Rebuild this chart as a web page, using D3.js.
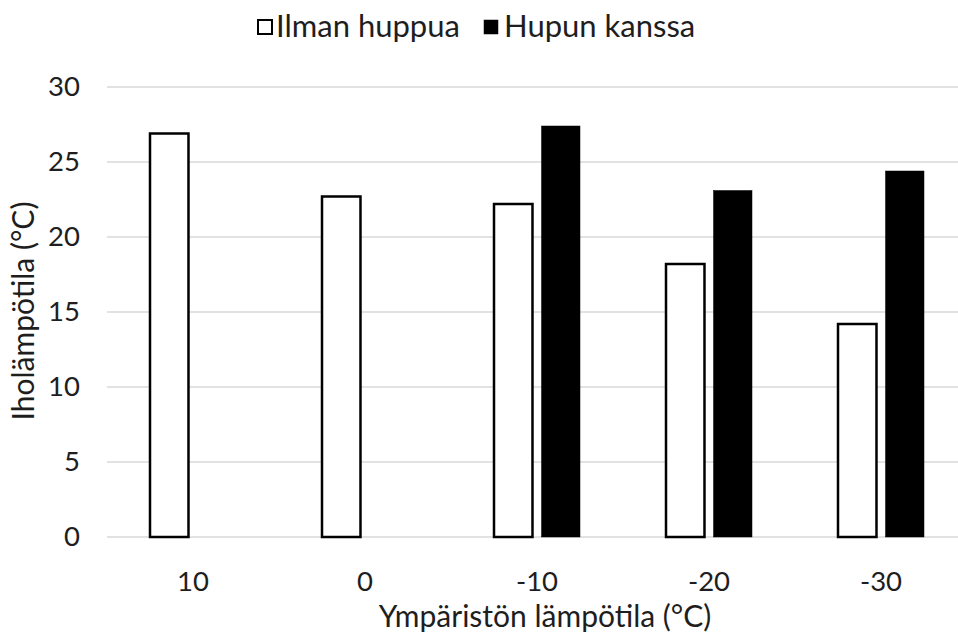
<!DOCTYPE html>
<html>
<head>
<meta charset="utf-8">
<script src="https://cdn.jsdelivr.net/npm/d3@7"></script>
<style>
  html, body { margin: 0; padding: 0; background: #fff; }
  svg { display: block; font-family: Lato, "Open Sans", sans-serif; }
</style>
</head>
<body>
<svg id="chart" width="958" height="637"></svg>
<script>
// Ambient temperature categories (°C) and skin temperature per series (°C)
const categories = ["10", "0", "-10", "-20", "-30"];
const seriesNames = ["Ilman huppua", "Hupun kanssa"];
const withoutHood = [26.9, 22.7, 22.2, 18.2, 14.2];
const withHood = [null, null, 27.4, 23.1, 24.4];
const yTicks = [0, 5, 10, 15, 20, 25, 30];
const xTitle = "Ympäristön lämpötila (°C)";
const yTitle = "Iholämpötila (°C)";

const seriesValues = [withoutHood, withHood];
const seriesFill = ["#ffffff", "#000000"];
const textColor = "#1e1e1e";
const tickFont = 27.5;
const labelFont = 30;
const legendFont = 31;

const svg = d3.select("#chart");

const plot = { left: 107, right: 967, top: 87, bottom: 537 };

const y = d3.scaleLinear().domain([0, 30]).range([plot.bottom, plot.top]);

const x0 = d3.scaleBand()
  .domain(categories)
  .range([plot.left, plot.right])
  .paddingInner(0.5)
  .paddingOuter(0.25);

const x1 = d3.scaleBand()
  .domain(seriesNames)
  .range([0, x0.bandwidth()])
  .paddingInner(0.19)
  .paddingOuter(0);

// Horizontal gridlines (the zero line doubles as the category axis)
svg.append("g")
  .selectAll("line")
  .data(yTicks)
  .join("line")
  .attr("x1", plot.left)
  .attr("x2", plot.right)
  .attr("y1", d => y(d))
  .attr("y2", d => y(d))
  .attr("stroke", "#d9d9d9")
  .attr("stroke-width", 1.5);

// Value axis labels
const yAxis = svg.append("g")
  .attr("transform", `translate(${plot.left - 27},0)`)
  .call(d3.axisLeft(y).tickValues(yTicks).tickSize(0).tickPadding(0));
yAxis.select(".domain").remove();
yAxis.selectAll("text")
  .attr("font-family", "Lato, 'Open Sans', sans-serif")
  .attr("font-size", tickFont)
  .attr("fill", textColor);

// Category axis labels
const xAxis = svg.append("g")
  .attr("transform", `translate(0,${plot.bottom})`)
  .call(d3.axisBottom(x0).tickSize(0).tickPadding(34));
xAxis.select(".domain").remove();
xAxis.selectAll("text")
  .attr("font-family", "Lato, 'Open Sans', sans-serif")
  .attr("font-size", tickFont)
  .attr("fill", textColor);

// Bars
const rows = categories.map((c, i) => ({
  category: c,
  values: seriesNames.map((s, j) => ({ series: s, idx: j, value: seriesValues[j][i] }))
}));

svg.append("g")
  .selectAll("g")
  .data(rows)
  .join("g")
  .attr("transform", d => `translate(${x0(d.category)},0)`)
  .selectAll("rect")
  .data(d => d.values.filter(v => v.value != null))
  .join("rect")
  .attr("x", d => x1(d.series))
  .attr("y", d => y(d.value))
  .attr("width", x1.bandwidth())
  .attr("height", d => y(0) - y(d.value))
  .attr("fill", d => seriesFill[d.idx])
  .attr("stroke", "#000")
  .attr("stroke-width", d => d.idx === 0 ? 2.5 : 0.5);

// Axis titles
svg.append("text")
  .attr("x", 545)
  .attr("y", 627)
  .attr("text-anchor", "middle")
  .attr("font-size", labelFont)
  .attr("fill", textColor)
  .text(xTitle);

svg.append("text")
  .attr("transform", "translate(34,311) rotate(-90)")
  .attr("text-anchor", "middle")
  .attr("font-size", labelFont)
  .attr("fill", textColor)
  .text(yTitle);

// Legend
const legendX = [258, 484];
const legend = svg.append("g")
  .selectAll("g")
  .data(seriesNames)
  .join("g")
  .attr("transform", (d, i) => `translate(${legendX[i]},0)`);
legend.append("rect")
  .attr("x", 0)
  .attr("y", 20)
  .attr("width", 14)
  .attr("height", 14)
  .attr("fill", (d, i) => seriesFill[i])
  .attr("stroke", "#000")
  .attr("stroke-width", (d, i) => i === 0 ? 2 : 0.5);
legend.append("text")
  .attr("x", (d, i) => i === 0 ? 18 : 20)
  .attr("y", 37)
  .attr("font-size", legendFont)
  .attr("fill", textColor)
  .text(d => d);
</script>
</body>
</html>
